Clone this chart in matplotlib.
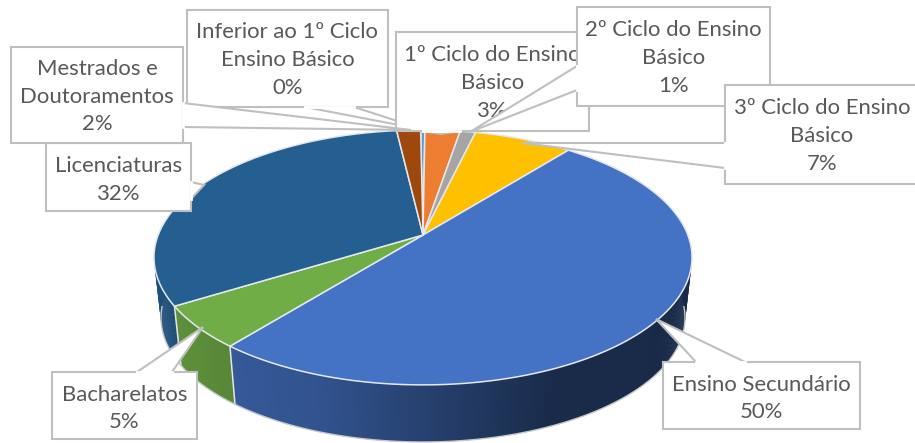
"""
Pie 3D com caixas de legenda (habilitações literárias).
A perspectiva é calculada à mão porque o matplotlib não tem pie 3D.
"""

import numpy as np
import matplotlib
matplotlib.use('Agg')
import matplotlib.pyplot as plt
from matplotlib.patches import Polygon

# dados (%), a partir do topo no sentido dos ponteiros
categorias = ['Inferior ao 1º Ciclo\nEnsino Básico', '1º Ciclo do Ensino\nBásico',
              '2º Ciclo do Ensino\nBásico', '3º Ciclo do Ensino\nBásico',
              'Ensino Secundário', 'Bacharelatos', 'Licenciaturas',
              'Mestrados e\nDoutoramentos']
valores = [0.3, 2.5, 1.1, 7.0, 50.1, 5.4, 31.9, 1.7]
percentagens = ['0%', '3%', '1%', '7%', '50%', '5%', '32%', '2%']
cores = ['#5b9bd5', '#ed7d31', '#a5a5a5', '#ffc000', '#4472c4', '#70ad47', '#255e91', '#9e480e']

# caixas: x0, y0, x1, y1 e o polígono do ponteiro (em píxeis da imagem)
caixas = [
    ((187, 10, 388, 107), [(305, 107), (425, 130), (354, 107)]),
    ((396, 32, 589, 131), [(423, 131), (441, 134), (460, 131)]),
    ((577, 7, 770, 106), [(577, 66), (470, 132), (577, 90)]),
    ((725, 85, 919, 184), [(725, 143), (522, 143), (725, 168)]),
    ((663, 362, 860, 429), [(696, 362), (656, 319), (745, 362)]),
    ((52, 372, 197, 439), [(137, 372), (203, 327), (172, 372)]),
    ((46, 143, 191, 211), [(191, 182), (204, 185), (191, 199)]),
    ((11, 47, 183, 143), [(183, 103), (411, 130), (183, 127)]),
]

ANGULO_INICIAL = -0.6
CX, CY = 423, 235
A, B, P = 264.8, 123.5, 0.176
ESCALA_BASE, CY_BASE = 0.974, 296


def projetar(theta, base=False):
    """Projeta um ângulo (graus, 0 = fundo) para píxeis, com perspectiva."""
    t = np.radians(theta)
    w = 1 + P * np.cos(t)
    esc = ESCALA_BASE if base else 1.0
    cy = CY_BASE if base else CY
    return CX + esc * A * np.sin(t) / w, cy - esc * B * np.cos(t) / w


def sombra(x):
    """Fator de escurecimento da parede lateral conforme a posição horizontal."""
    return np.interp(x - CX, [-270, -190, -100, 130, 270], [0.85, 0.78, 0.72, 0.38, 0.37])


fig = plt.figure(figsize=(9.15, 4.43), dpi=100)
ax = fig.add_axes([0, 0, 1, 1])
ax.set_xlim(0, 915)
ax.set_ylim(443, 0)
ax.axis('off')

limites = ANGULO_INICIAL + np.cumsum([0] + valores) * 360 / sum(valores)

# parede lateral, em tiras sobrepostas para dar o gradiente sem riscas
for i, cor in enumerate(cores):
    rgb = np.array(matplotlib.colors.to_rgb(cor))
    angulos = np.linspace(limites[i], limites[i + 1], max(4, int(limites[i + 1] - limites[i]) * 3))
    passo = angulos[1] - angulos[0]
    for a0 in angulos[:-1]:
        a1 = min(a0 + 2 * passo, limites[i + 1])
        x0, y0 = projetar(a0)
        x1, y1 = projetar(a1)
        x2, y2 = projetar(a1, base=True)
        x3, y3 = projetar(a0, base=True)
        ax.add_patch(Polygon([(x0, y0), (x1, y1), (x2, y2), (x3, y3)],
                             fc=rgb * sombra(x0), ec='none', zorder=1))
    # aresta vertical entre fatias
    x0, y0 = projetar(limites[i])
    x3, y3 = projetar(limites[i], base=True)
    if np.cos(np.radians(limites[i])) < 0:
        ax.plot([x0, x3], [y0, y3], color='#e6e6e6', lw=1.1, zorder=2)

# contorno cinzento da base
ang = np.linspace(95, 265, 200)
xb, yb = projetar(ang, base=True)
ax.plot(xb, yb, color='#c8c8c8', lw=1.0, zorder=2)

# topo
for i, cor in enumerate(cores):
    ang = np.linspace(limites[i], limites[i + 1], max(3, int(limites[i + 1] - limites[i]) * 2))
    xs, ys = projetar(ang)
    pts = [(CX, CY)] + list(zip(xs, ys))
    ax.add_patch(Polygon(pts, fc=cor, ec='#e4e8ee', lw=1.1, joinstyle='round', zorder=3))

# caixas de legenda, pela ordem das séries
for i, (caixa, ponteiro) in enumerate(caixas):
    x0, y0, x1, y1 = caixa
    z = 10 + i
    ax.add_patch(Polygon([(x0, y0), (x1, y0), (x1, y1), (x0, y1)], fc='white',
                         ec='#bfbfbf', lw=1.5, zorder=z))
    ax.add_patch(Polygon(ponteiro, closed=False, fc='white', ec='#bfbfbf', lw=1.5, zorder=z))
    # tapa a linha da caixa na base do ponteiro
    ax.plot([ponteiro[0][0], ponteiro[-1][0]], [ponteiro[0][1], ponteiro[-1][1]],
            color='white', lw=2.0, zorder=z)
    texto = categorias[i] + '\n' + percentagens[i]
    desvio = 3 if texto.count('\n') == 1 else 1.5
    ax.text((x0 + x1) / 2, (y0 + y1) / 2 + desvio, texto,
            ha='center', va='center', fontsize=15.9, family='Lato', color='#595959',
            linespacing=1.49, zorder=z)

fig.savefig('out.png', dpi=100)
